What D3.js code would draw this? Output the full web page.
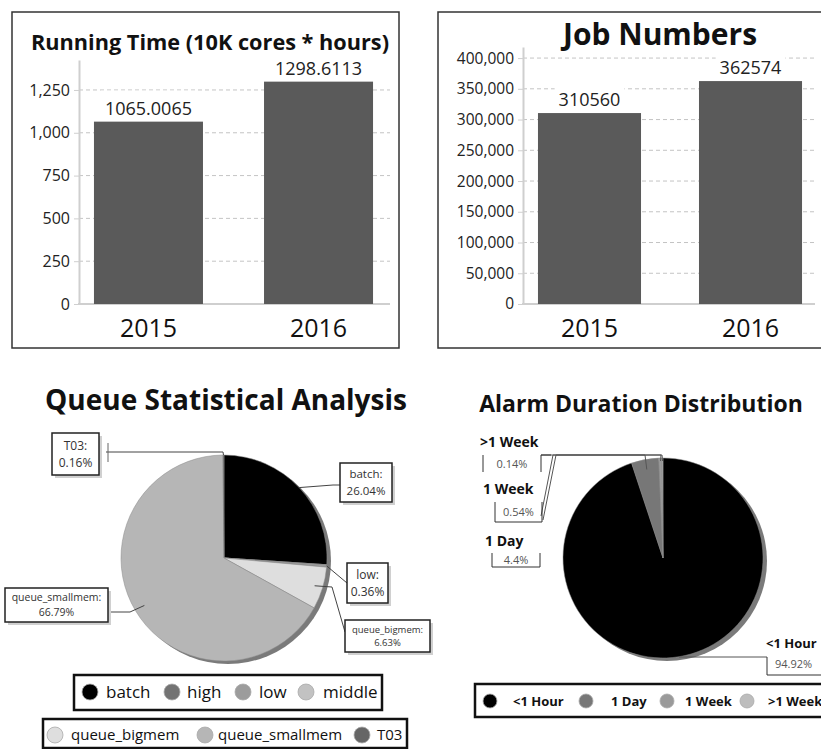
<!DOCTYPE html>
<html>
<head>
<meta charset="utf-8">
<script src="https://cdn.jsdelivr.net/npm/d3@7"></script>
<style>
  body { margin: 0; background: #fff; }
  svg { display: block; }
  text { font-family: "Open Sans", "Noto Sans", sans-serif; }
</style>
</head>
<body>
<svg id="chart"></svg>
<script>
// ---- data ----
var runYears = ["2015", "2016"];
var runHours = [1065.0065, 1298.6113];
var runTicks = [0, 250, 500, 750, 1000, 1250];

var jobYears = ["2015", "2016"];
var jobCounts = [310560, 362574];
var jobTicks = [0, 50000, 100000, 150000, 200000, 250000, 300000, 350000, 400000];

var queueNames = ["batch", "high", "low", "middle", "queue_bigmem", "queue_smallmem", "T03"];
var queueShares = [26.04, 0.01, 0.36, 0.01, 6.63, 66.79, 0.16];
var queueColors = ["#000000", "#737373", "#9c9c9c", "#c2c2c2", "#dedede", "#b6b6b6", "#666666"];

var alarmNames = ["<1 Hour", "1 Day", "1 Week", ">1 Week"];
var alarmShares = [94.92, 4.4, 0.54, 0.14];
var alarmColors = ["#000000", "#777777", "#9a9a9a", "#bdbdbd"];

var width = 821;
var height = 749;

var svg = d3.select("#chart")
    .attr("width", width)
    .attr("height", height);

svg.append("rect").attr("width", width).attr("height", height).attr("fill", "#fff");

// label with a white box behind it (hides the grid line)
function boxedText(g, x, y, txt, size) {
    var t = g.append("text")
        .attr("x", x).attr("y", y)
        .attr("text-anchor", "middle")
        .attr("font-size", size)
        .attr("fill", "#222")
        .text(txt);
    var b = t.node().getBBox();
    g.insert("rect", function () { return t.node(); })
        .attr("x", b.x - 4).attr("y", y - 24)
        .attr("width", b.width + 8).attr("height", 27)
        .attr("fill", "#fff");
}

function drawBarChart(o) {
    var g = svg.append("g");
    g.append("rect")
        .attr("x", o.box[0]).attr("y", o.box[1])
        .attr("width", o.box[2]).attr("height", o.box[3])
        .attr("fill", "none").attr("stroke", "#333").attr("stroke-width", 1.5);

    g.append("text")
        .attr("x", o.titleX).attr("y", o.titleY)
        .attr("text-anchor", "middle")
        .attr("font-size", o.titleSize).attr("font-weight", "bold")
        .attr("fill", "#111")
        .text(o.title);

    var y = d3.scaleLinear().domain([0, o.max]).range([o.base, o.top]);
    var x = d3.scaleBand().domain(o.cats).range([o.left, o.right])
        .paddingInner(o.pi).paddingOuter(o.po);

    // dashed grid
    g.selectAll(".grid")
        .data(o.ticks.slice(1))
        .enter().append("line")
        .attr("x1", o.left).attr("x2", o.gridEnd)
        .attr("y1", function (d) { return y(d); })
        .attr("y2", function (d) { return y(d); })
        .attr("stroke", "#c4c4c4")
        .attr("stroke-dasharray", "4,3");

    var ag = g.append("g")
        .attr("transform", "translate(" + o.left + ",0)")
        .call(d3.axisLeft(y).tickValues(o.ticks).tickFormat(d3.format(","))
            .tickSize(5).tickSizeOuter(0).tickPadding(4))
        .attr("font-size", o.tickSize);
    ag.select(".domain").attr("stroke", "#cfcfcf").attr("stroke-width", 2);
    ag.selectAll(".tick line").attr("stroke", "#cfcfcf");
    ag.selectAll(".tick text").attr("fill", "#222");

    g.append("line")
        .attr("x1", o.left - 1).attr("x2", o.gridEnd)
        .attr("y1", o.base).attr("y2", o.base)
        .attr("stroke", "#cfcfcf").attr("stroke-width", 2);

    g.selectAll(".bar")
        .data(o.values)
        .enter().append("rect")
        .attr("x", function (d, i) { return x(o.cats[i]); })
        .attr("y", function (d) { return y(d); })
        .attr("width", x.bandwidth())
        .attr("height", function (d) { return o.base - y(d); })
        .attr("fill", "#5a5a5a");

    o.values.forEach(function (d, i) {
        boxedText(g, x(o.cats[i]) + x.bandwidth() / 2, y(d) - 7, String(d), 18);
    });

    g.selectAll(".xlab")
        .data(o.cats)
        .enter().append("text")
        .attr("x", function (d) { return x(d) + x.bandwidth() / 2; })
        .attr("y", 337)
        .attr("text-anchor", "middle")
        .attr("font-size", 25)
        .attr("fill", "#111")
        .text(function (d) { return d; });
}

drawBarChart({
    box: [12, 12, 387, 336],
    title: "Running Time (10K cores * hours)", titleX: 210, titleY: 50, titleSize: 21.7,
    cats: runYears, values: runHours, ticks: runTicks, max: 1425,
    base: 304, top: 60, left: 79, right: 388, gridEnd: 390, pi: 0.359, po: 0.088,
    tickSize: 16
});

drawBarChart({
    box: [438, 12, 400, 336],
    title: "Job Numbers", titleX: 660, titleY: 45, titleSize: 30,
    cats: jobYears, values: jobCounts, ticks: jobTicks, max: 418000,
    base: 304, top: 47, left: 523, right: 817, gridEnd: 815, pi: 0.36, po: 0.093,
    tickSize: 15.5
});

// ---- pie charts ----
function pieSlices(names, shares, colors) {
    var rows = names.map(function (n, i) { return { name: n, v: shares[i], color: colors[i] }; });
    return d3.pie().sort(null).value(function (d) { return d.v; })(rows);
}

function arcPoint(cx, cy, r, a) {
    return [cx + r * Math.sin(a), cy - r * Math.cos(a)];
}

function drawPie(g, slices, cx, cy, r, shadow) {
    g.append("circle")
        .attr("cx", cx + shadow[0]).attr("cy", cy + shadow[1]).attr("r", r)
        .attr("fill", "#7a7a7a");
    var arc = d3.arc().innerRadius(0).outerRadius(r);
    g.append("g").attr("transform", "translate(" + cx + "," + cy + ")")
        .selectAll("path")
        .data(slices)
        .enter().append("path")
        .attr("d", arc)
        .attr("fill", function (d) { return d.data.color; })
        .attr("stroke", "#8a8a8a")
        .attr("stroke-width", 0.5);
}

function polyline(g, pts, color) {
    g.append("path")
        .attr("d", d3.line()(pts))
        .attr("fill", "none")
        .attr("stroke", color || "#444")
        .attr("stroke-width", 1);
}

// Queue Statistical Analysis
var qg = svg.append("g");
qg.append("text")
    .attr("x", 226).attr("y", 410)
    .attr("text-anchor", "middle")
    .attr("font-size", 28).attr("font-weight", "bold").attr("fill", "#111")
    .text("Queue Statistical Analysis");

var qcx = 224, qcy = 558, qr = 103;
var qSlices = pieSlices(queueNames, queueShares, queueColors);
drawPie(qg, qSlices, qcx, qcy, qr, [4, 3]);

var queueLabelLayout = {
    "T03":            { box: [52, 433, 47, 42], fs: 12, k: 1.0,  via: [[223, 452], [106, 452]] },
    "batch":          { box: [340, 463, 52, 39], fs: 11.5, k: 1.0,  via: [[333, 485], [340, 485]] },
    "low":            { box: [347, 563, 41, 40], fs: 12, k: 1.0,  via: [[347, 583]] },
    "queue_bigmem":   { box: [345, 620, 85, 32], fs: 9.5, k: 0.92, via: [[332, 587], [345, 632]] },
    "queue_smallmem": { box: [5, 588, 103, 34],  fs: 10.5, k: 0.9,  via: [[130, 612], [108, 612]] }
};

qSlices.forEach(function (s) {
    var L = queueLabelLayout[s.data.name];
    if (!L) return;
    var mid = (s.startAngle + s.endAngle) / 2;
    var p0 = arcPoint(qcx, qcy, qr * L.k, mid);
    polyline(qg, [p0].concat(L.via), "#444");
    var b = L.box;
    qg.append("rect")
        .attr("x", b[0] + 3).attr("y", b[1] + 3).attr("width", b[2]).attr("height", b[3])
        .attr("fill", "#d0d0d0");
    qg.append("rect")
        .attr("x", b[0]).attr("y", b[1]).attr("width", b[2]).attr("height", b[3])
        .attr("fill", "#fff").attr("stroke", "#222").attr("stroke-width", 1.5);
    var gap = L.fs * 1.4;
    var y1 = b[1] + b[3] / 2 - gap / 2 + L.fs * 0.35;
    [s.data.name + ":", s.data.v + "%"].forEach(function (line, j) {
        qg.append("text")
            .attr("x", b[0] + b[2] / 2).attr("y", y1 + j * gap)
            .attr("text-anchor", "middle")
            .attr("font-size", L.fs).attr("fill", "#333")
            .text(line);
    });
});
qg.append("line").attr("x1", 108).attr("x2", 108).attr("y1", 443).attr("y2", 462)
    .attr("stroke", "#666");

// legends
function drawLegend(g, box, names, colors, cxs, txs, cy, fs, bold, r) {
    g.append("rect")
        .attr("x", box[0]).attr("y", box[1]).attr("width", box[2]).attr("height", box[3])
        .attr("fill", "#fff").attr("stroke", "#111").attr("stroke-width", 2.5);
    names.forEach(function (n, i) {
        g.append("circle").attr("cx", cxs[i]).attr("cy", cy).attr("r", r)
            .attr("fill", colors[i]).attr("stroke", "#aaa").attr("stroke-width", 0.8);
        g.append("text").attr("x", txs[i]).attr("y", cy + fs * 0.35)
            .attr("font-size", fs).attr("font-weight", bold ? "bold" : "normal")
            .attr("fill", "#111").text(n);
    });
}

drawLegend(qg, [74, 675, 308, 35], queueNames.slice(0, 4), queueColors.slice(0, 4),
    [90, 172, 243, 306], [106, 187, 259, 323], 692, 17, false, 8);
drawLegend(qg, [43, 719, 364, 29], queueNames.slice(4), queueColors.slice(4),
    [55, 205, 362], [71, 218, 377], 735, 15, false, 8);

// Alarm Duration Distribution
var ag2 = svg.append("g");
ag2.append("text")
    .attr("x", 641).attr("y", 412)
    .attr("text-anchor", "middle")
    .attr("font-size", 23).attr("font-weight", "bold").attr("fill", "#111")
    .text("Alarm Duration Distribution");

var acx = 663, acy = 558, ar = 100;
var aSlices = pieSlices(alarmNames, alarmShares, alarmColors);
drawPie(ag2, aSlices, acx, acy, ar, [4, 3]);

var alarmLabelLayout = {
    ">1 Week": { title: [480, 447], box: [483, 455, 58, 17], shape: "brackets", k: 0.97,
                 via: [[662, 455], [553, 455], [541, 455]] },
    "1 Week":  { title: [483, 494], box: [495, 502, 47, 20], shape: "u", k: 0.97,
                 via: [[661, 455], [556, 455], [543, 520]] },
    "1 Day":   { title: [485, 546], box: [492, 553, 48, 14], shape: "u", k: 0.9,
                 via: [[645, 455], [553, 455], [541, 516]] },
    "<1 Hour": { title: [766, 648], box: [767, 657, 70, 18], shape: "l", k: 1.0,
                 via: [[679, 657], [767, 657]] }
};

aSlices.forEach(function (s) {
    var L = alarmLabelLayout[s.data.name];
    var mid = (s.startAngle + s.endAngle) / 2;
    var p0 = arcPoint(acx, acy, ar * L.k, mid);
    polyline(ag2, [p0].concat(L.via), "#555");
    var b = L.box, x0 = b[0], x1 = b[0] + b[2], y0 = b[1], y1 = b[1] + b[3];
    if (L.shape === "brackets") {
        polyline(ag2, [[x0, y0], [x0, y1]], "#333");
        polyline(ag2, [[x1 + 10, y0], [x1, y0], [x1, y1]], "#333");
    } else if (L.shape === "u") {
        polyline(ag2, [[x0, y0], [x0, y1], [x1, y1], [x1, y0]], "#333");
    } else {
        polyline(ag2, [[x0, y0], [x0, y1], [x1, y1]], "#333");
    }
    ag2.append("text")
        .attr("x", L.title[0]).attr("y", L.title[1])
        .attr("font-size", s.data.name === "<1 Hour" ? 13 : 14)
        .attr("font-weight", "bold").attr("fill", "#111")
        .text(s.data.name);
    ag2.append("text")
        .attr("x", L.shape === "l" ? x0 + 8 : (x0 + x1) / 2)
        .attr("y", y0 + (L.shape === "l" ? 11 : b[3] / 2 + 4))
        .attr("text-anchor", L.shape === "l" ? "start" : "middle")
        .attr("font-size", 11).attr("fill", "#555")
        .text(s.data.v + "%");
});

drawLegend(ag2, [475, 684, 360, 33], alarmNames, alarmColors,
    [490, 586, 667, 747], [513, 611, 685, 768], 701, 13, true, 7);
</script>
</body>
</html>
